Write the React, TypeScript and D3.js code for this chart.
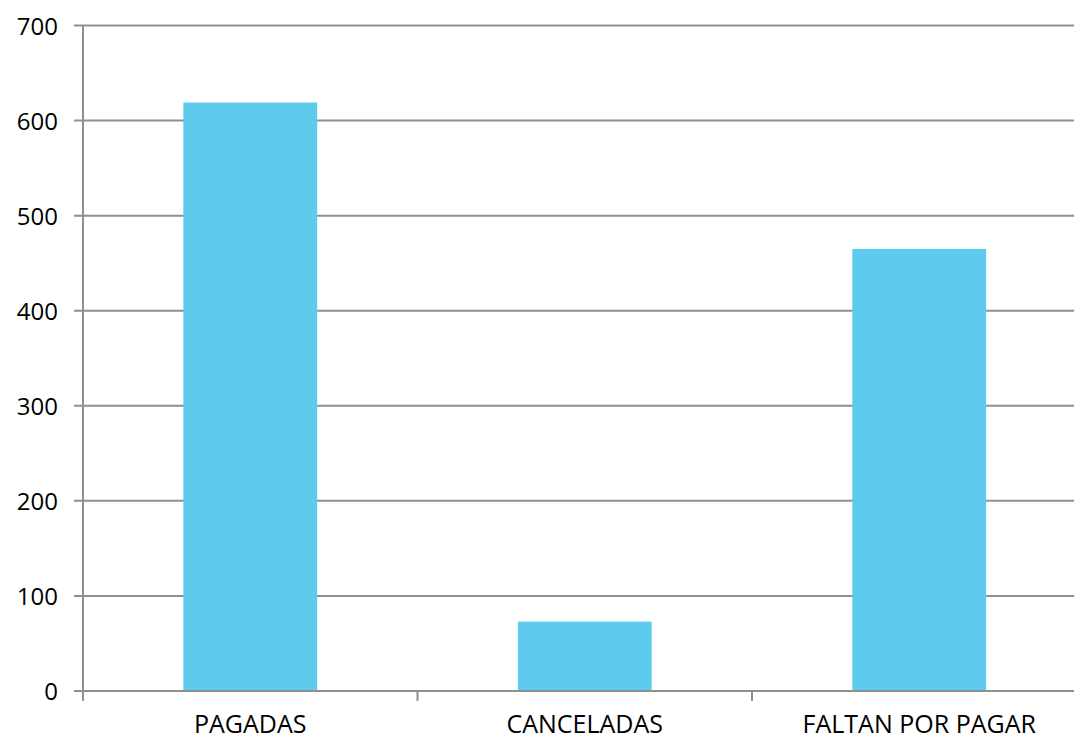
import React from "react";
import * as d3 from "d3";

const categories = ["PAGADAS", "CANCELADAS", "FALTAN POR PAGAR"];
const values = [619, 73, 465];
const yTicks = [0, 100, 200, 300, 400, 500, 600, 700];

export default function App() {
  const W = 1074, H = 737;
  const left = 83, right = 1086.5, top = 25.5, bottom = 691;
  const x = d3.scaleBand<string>().domain(categories).range([left, right]).paddingInner(0.6).paddingOuter(0.3);
  const y = d3.scaleLinear().domain([0, 700]).range([bottom, top]);
  const step = x.step();
  const bounds = categories.map((_, i) => left + i * step).concat([right]);
  const grid = "#8f8f8f";
  return (
    <svg width={W} height={H} style={{ position: "absolute", left: 0, top: 0, fontFamily: "'Open Sans', sans-serif" }}>
      <rect width={W} height={H} fill="#fff" />
      {yTicks.map((t) => (
        <g key={t}>
          <line x1={74} x2={W} y1={y(t)} y2={y(t)} stroke={grid} strokeWidth={2} />
          <text x={58} y={y(t) + 9} textAnchor="end" fontSize={24} fill="#000">{t}</text>
        </g>
      ))}
      {categories.map((c, i) => (
        <rect key={c} x={x(c)} y={y(values[i])} width={x.bandwidth()} height={bottom - y(values[i])} fill="#5ECBEE" />
      ))}
      <line x1={left} x2={left} y1={top} y2={701} stroke={grid} strokeWidth={2} />
      {bounds.map((b, i) => (
        <line key={i} x1={b} x2={b} y1={bottom} y2={701} stroke={grid} strokeWidth={2} />
      ))}
      <line x1={left} x2={W} y1={bottom} y2={bottom} stroke={grid} strokeWidth={2} />
      {categories.map((c) => (
        <text key={c} x={(x(c) as number) + x.bandwidth() / 2} y={732.5} textAnchor="middle" fontSize={25} fill="#000">{c}</text>
      ))}
    </svg>
  );
}
